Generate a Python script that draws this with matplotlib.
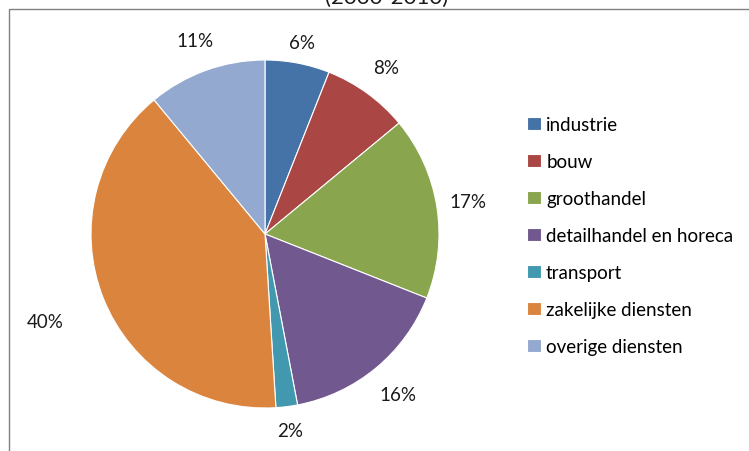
import numpy as np
import matplotlib.pyplot as plt
from matplotlib.patches import Rectangle

# aandeel per sector
sectoren = ['industrie', 'bouw', 'groothandel', 'detailhandel en horeca',
            'transport', 'zakelijke diensten', 'overige diensten']
aandeel = [6, 8, 17, 16, 2, 40, 11]
kleuren = ['#4572A7', '#AA4643', '#89A54E', '#71588F', '#4198AF', '#DB843D', '#93A9CF']

# afstand van de labels tot het midden (in straal)
label_afstand = [1.12, 1.18, 1.18, 1.2, 1.14, 1.36, 1.18]

plt.rcParams['font.family'] = ['Lato', 'DejaVu Sans']

fig = plt.figure(figsize=(7.49, 4.52), dpi=100)
W, H = 749, 452

# kader van de grafiek
fig.patches.append(Rectangle((9 / W, -0.1), 1.2, (H - 10) / H + 0.1,
                             transform=fig.transFigure, fill=False,
                             edgecolor='#808080', linewidth=1.0))
fig.text(387 / W, 1 + 2 / H, '(2000-2010)', ha='center', va='center',
         fontsize=16, color='#1a1a1a')

cx, cy, r = 265, 235, 174
ax = fig.add_axes([(cx - r) / W, (H - cy - r) / H, 2 * r / W, 2 * r / H])
wedges, _ = ax.pie(aandeel, colors=kleuren, startangle=90, counterclock=False,
                   radius=1, wedgeprops=dict(edgecolor='white', linewidth=0.8))
ax.set_xlim(-1, 1)
ax.set_ylim(-1, 1)
ax.set_aspect('equal')
ax.axis('off')

for w, v, d in zip(wedges, aandeel, label_afstand):
    hoek = np.deg2rad((w.theta1 + w.theta2) / 2)
    ax.text(d * np.cos(hoek), d * np.sin(hoek), f'{v}%', ha='center', va='center',
            fontsize=13.5, color='#1a1a1a')

fig.legend(wedges, sectoren, loc='upper left', bbox_to_anchor=(518 / W, 1 - 108 / H),
           frameon=False, fontsize=13.5, handlelength=0.7, handleheight=0.7,
           handletextpad=0.3, labelspacing=1.06, borderpad=0)

fig.savefig('out.png', dpi=100)
